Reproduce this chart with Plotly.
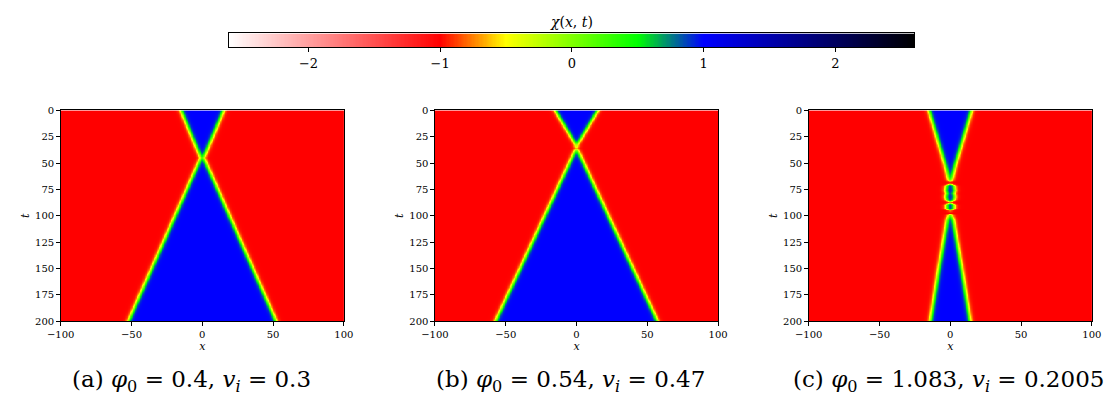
import numpy as np
import plotly.graph_objects as go

# half-separation a(t) of the kink pair (knots in t)
t_knots_a = [0, 45, 200]
a_knots_a = [15.0, 1.0, 52.0]

t_knots_b = [0, 32, 36, 39, 200]
a_knots_b = [15.0, 0.8, 0.3, 1.2, 57.0]

t_knots_c = [0, 25, 50, 55, 62, 66, 68, 70, 72, 76, 79, 82, 85, 87, 88, 90, 93, 95,
             98, 100, 104, 125, 150, 175, 200]
a_knots_c = [15.0, 9.5, 4.0, 3.0, 1.8, 1.0, 0.0, 0.2, 2.8, 3.2, 2.6, 3.2, 2.6, 0.2,
             0.2, 2.6, 2.6, 0.2, 0.0, 1.0, 2.2, 4.8, 8.0, 11.0, 14.0]

captions = ["(a) <i>φ</i><sub>0</sub> = 0.4, <i>v<sub>i</sub></i> = 0.3",
            "(b) <i>φ</i><sub>0</sub> = 0.54, <i>v<sub>i</sub></i> = 0.47",
            "(c) <i>φ</i><sub>0</sub> = 1.083, <i>v<sub>i</sub></i> = 0.2005"]

x_ticks = [-100, -50, 0, 50, 100]
t_ticks = [0, 25, 50, 75, 100, 125, 150, 175, 200]
cbar_ticks = [-2, -1, 0, 1, 2]
zlim = 2.6

# page body has an 8px margin: figure is 1112x397 and positions are page px - 8
OFF = 8
W, H = 1120 - OFF, 405 - OFF
panels_px = [(47.5, 337.0), (430.0, 719.5), (812.0, 1101.5)]
top_px, bot_px = 108.0, 324.0
cap_x_px = [181, 569, 955]
cap_y_px = 385
cbar_px = (220.0, 920.0, 29.0, 43.0)


def px(v):
    return (v - OFF) / W


def py(v):
    return 1 - (v - OFF) / H


x = np.linspace(-100, 100, 401)
t = np.linspace(0, 200, 401)
w = 1.7


def field(tk, ak):
    a = np.interp(t, tk, ak)[:, None]
    X = x[None, :]
    return np.round(np.tanh((X + a) / w) - np.tanh((X - a) / w) - 1.0, 3)


def frac(v):
    return (v + zlim) / (2 * zlim)


cscale = [[0.0, "#ffffff"], [frac(-1), "#ff0000"], [frac(-0.5), "#ffff00"],
          [frac(0.5), "#00ff00"], [frac(1), "#0000ff"], [1.0, "#000000"]]

serif = "DejaVu Serif"
fig = go.Figure()

axcommon = dict(showline=True, linecolor="black", linewidth=1, mirror=True,
                ticks="outside", ticklen=3.5, tickwidth=0.8, tickcolor="black",
                tickfont=dict(family=serif, size=10, color="black"),
                showgrid=False, zeroline=False)

for i, (tk, ak) in enumerate([(t_knots_a, a_knots_a), (t_knots_b, a_knots_b),
                              (t_knots_c, a_knots_c)]):
    xa = "x" if i == 0 else f"x{i + 1}"
    ya = "y" if i == 0 else f"y{i + 1}"
    fig.add_trace(go.Heatmap(x=x, y=t, z=field(tk, ak), xaxis=xa, yaxis=ya,
                             colorscale=cscale, zmin=-zlim, zmax=zlim,
                             showscale=False, hoverinfo="skip"))

    l, r = panels_px[i]
    fig.layout[f"xaxis{'' if i == 0 else i + 1}"] = dict(
        domain=[px(l), px(r)], anchor=ya, range=[-100, 100], tickvals=x_ticks,
        title=dict(text="<i>x</i>", standoff=3, font=dict(family=serif, size=11, color="black")),
        **axcommon)
    fig.layout[f"yaxis{'' if i == 0 else i + 1}"] = dict(
        domain=[py(bot_px), py(top_px)], anchor=xa, range=[200, 0], tickvals=t_ticks,
        title=dict(text="<i>t</i>", standoff=3, font=dict(family=serif, size=11, color="black")),
        **axcommon)
    fig.add_annotation(text=captions[i], x=px(cap_x_px[i]), y=py(cap_y_px),
                       xref="paper", yref="paper", showarrow=False,
                       xanchor="center", yanchor="middle",
                       font=dict(family=serif, size=23, color="black"))

# horizontal colour bar drawn as its own strip
cb_x = np.linspace(-zlim, zlim, 521)
fig.add_trace(go.Heatmap(x=cb_x, y=[0, 1], z=[cb_x, cb_x], xaxis="x4", yaxis="y4",
                         colorscale=cscale, zmin=-zlim, zmax=zlim,
                         showscale=False, hoverinfo="skip"))
l, r, tp, bt = cbar_px
fig.update_layout(
    xaxis4=dict(domain=[px(l), px(r)], anchor="y4", range=[-zlim, zlim], tickvals=cbar_ticks,
                showline=True, linecolor="black", linewidth=1, mirror=True,
                ticks="outside", ticklen=4, tickwidth=0.8, tickcolor="black",
                tickfont=dict(family=serif, size=13, color="black"),
                showgrid=False, zeroline=False),
    yaxis4=dict(domain=[py(bt), py(tp)], anchor="x4", range=[-0.5, 1.5],
                showline=True, linecolor="black", linewidth=1, mirror=True,
                showticklabels=False, ticks="", showgrid=False, zeroline=False),
)
fig.add_annotation(text="<i>χ</i>(<i>x</i>, <i>t</i>)", x=px(570), y=py(17),
                   xref="paper", yref="paper", showarrow=False,
                   xanchor="center", yanchor="middle",
                   font=dict(family=serif, size=14, color="black"))

fig.update_layout(width=W, height=H, margin=dict(l=0, r=0, t=0, b=0),
                  font=dict(family=serif, color="black"),
                  paper_bgcolor="white", plot_bgcolor="white", showlegend=False)

fig.write_html("out.html")
